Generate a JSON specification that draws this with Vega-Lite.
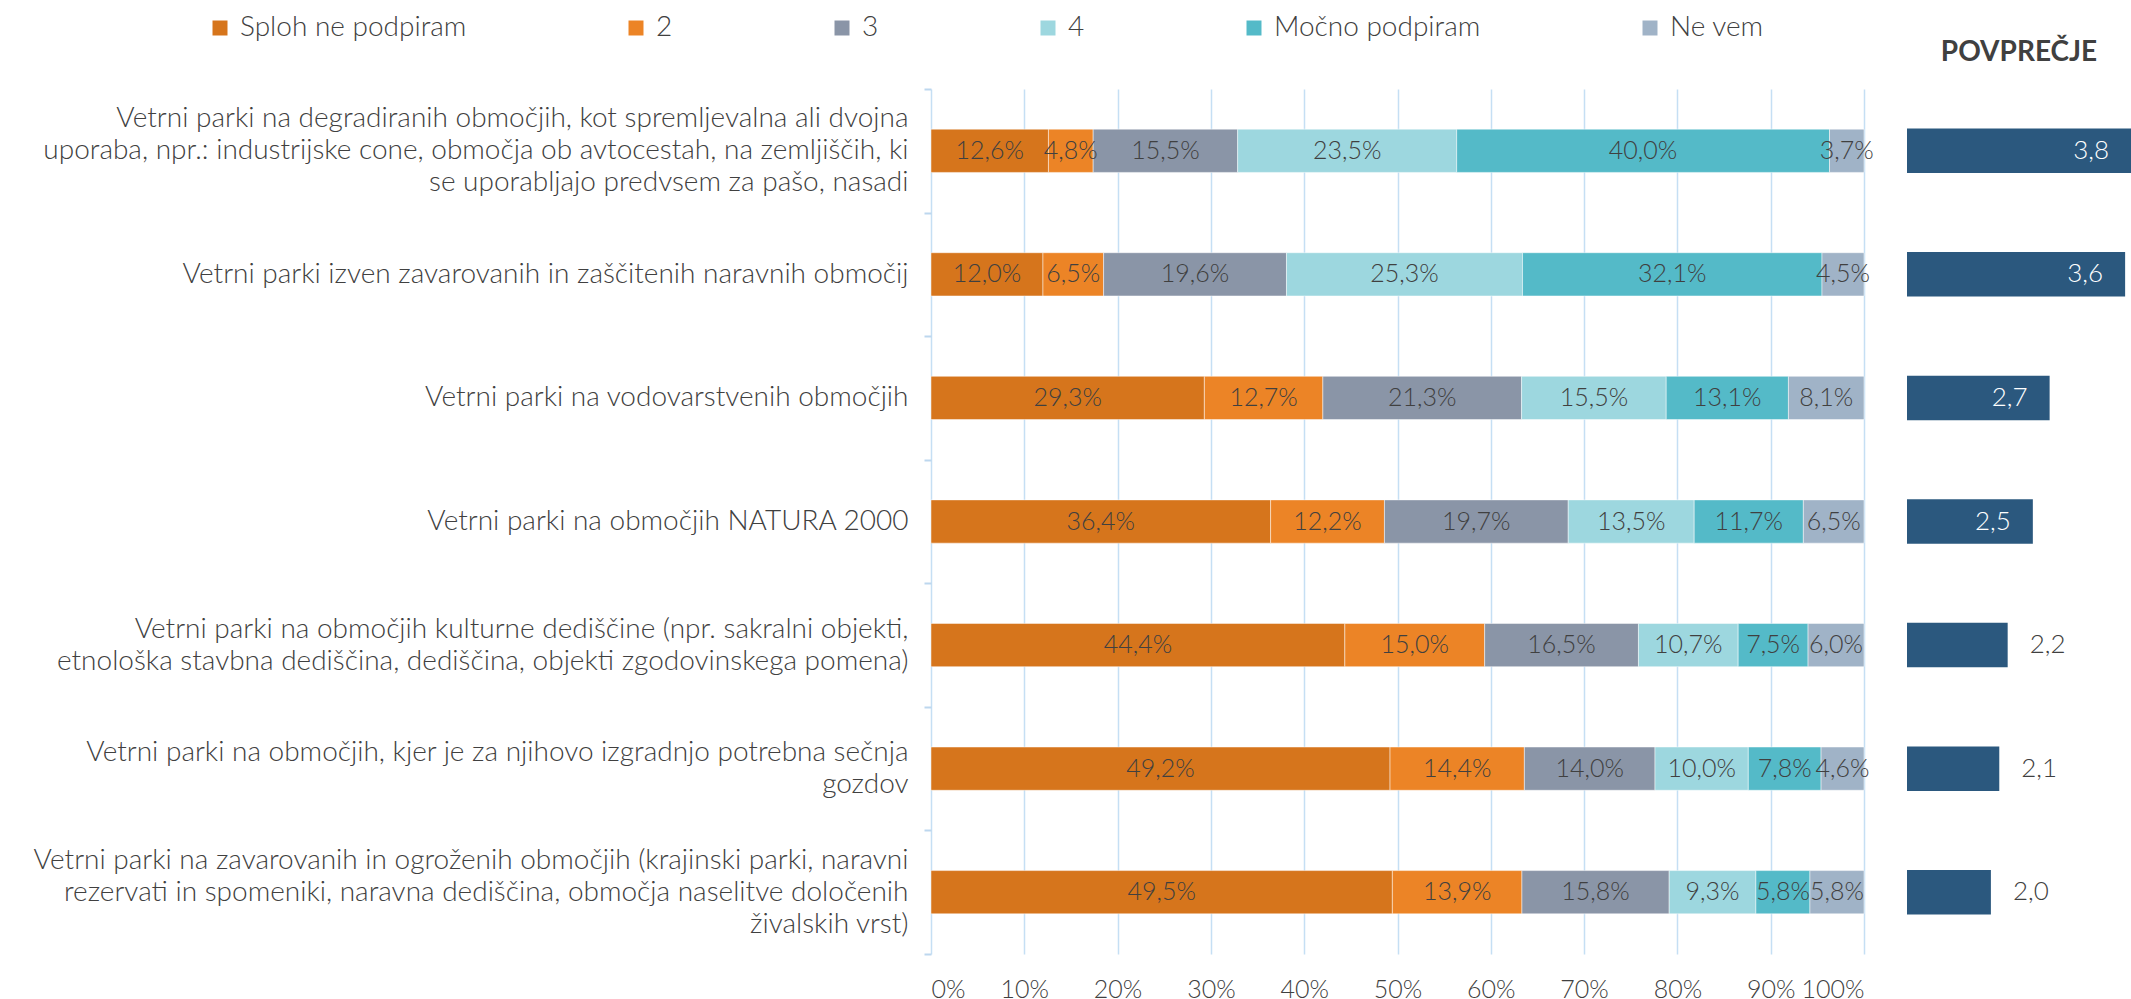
{
  "$schema": "https://vega.github.io/schema/vega-lite/v6.json",
  "autosize": {"type": "pad"},
  "padding": {"left": 33, "top": 14, "right": 0, "bottom": 0},
  "bounds": "flush",
  "spacing": 43,
  "config": {
    "view": {"stroke": null},
    "font": "Lato",
    "locale": {"number": {"decimal": ",", "thousands": ".", "grouping": [3], "currency": ["", " €"]}}
  },
  "datasets": {
    "d": [
      {"q": "Vetrni parki na degradiranih območjih, kot spremljevalna ali dvojna|uporaba, npr.: industrijske cone, območja ob avtocestah, na zemljiščih, ki|se uporabljajo predvsem za pašo, nasadi", "Sploh ne podpiram": 0.126, "2": 0.048, "3": 0.155, "4": 0.235, "Močno podpiram": 0.400, "Ne vem": 0.037, "avg": 3.8},
      {"q": "Vetrni parki izven zavarovanih in zaščitenih naravnih območij", "Sploh ne podpiram": 0.120, "2": 0.065, "3": 0.196, "4": 0.253, "Močno podpiram": 0.321, "Ne vem": 0.045, "avg": 3.6},
      {"q": "Vetrni parki na vodovarstvenih območjih", "Sploh ne podpiram": 0.293, "2": 0.127, "3": 0.213, "4": 0.155, "Močno podpiram": 0.131, "Ne vem": 0.081, "avg": 2.7},
      {"q": "Vetrni parki na območjih NATURA 2000", "Sploh ne podpiram": 0.364, "2": 0.122, "3": 0.197, "4": 0.135, "Močno podpiram": 0.117, "Ne vem": 0.065, "avg": 2.5},
      {"q": "Vetrni parki na območjih kulturne dediščine (npr. sakralni objekti,|etnološka stavbna dediščina, dediščina, objekti zgodovinskega pomena)", "Sploh ne podpiram": 0.444, "2": 0.150, "3": 0.165, "4": 0.107, "Močno podpiram": 0.075, "Ne vem": 0.060, "avg": 2.2},
      {"q": "Vetrni parki na območjih, kjer je za njihovo izgradnjo potrebna sečnja|gozdov", "Sploh ne podpiram": 0.492, "2": 0.144, "3": 0.140, "4": 0.100, "Močno podpiram": 0.078, "Ne vem": 0.046, "avg": 2.1},
      {"q": "Vetrni parki na zavarovanih in ogroženih območjih (krajinski parki, naravni|rezervati in spomeniki, naravna dediščina, območja naselitve določenih|živalskih vrst)", "Sploh ne podpiram": 0.495, "2": 0.139, "3": 0.158, "4": 0.093, "Močno podpiram": 0.058, "Ne vem": 0.058, "avg": 2.0}
    ]
  },
  "hconcat": [
    {
      "width": 933,
      "height": 865,
      "data": {"name": "d"},
      "transform": [
        {"fold": ["Sploh ne podpiram", "2", "3", "4", "Močno podpiram", "Ne vem"], "as": ["cat", "v"]},
        {"calculate": "indexof(['Sploh ne podpiram','2','3','4','Močno podpiram','Ne vem'], datum.cat)", "as": "k"},
        {"stack": "v", "groupby": ["q"], "sort": [{"field": "k", "order": "ascending"}], "offset": "normalize", "as": ["x0", "x1"]},
        {"calculate": "(datum.x0 + datum.x1) / 2", "as": "mid"}
      ],
      "encoding": {
        "y": {
          "field": "q", "type": "nominal", "sort": null,
          "scale": {"paddingInner": 0, "paddingOuter": 0},
          "axis": {
            "title": null,
            "labelExpr": "split(datum.label, '|')",
            "labelFont": "Lato", "labelFontSize": 28, "labelFontWeight": 300, "labelLineHeight": 32,
            "labelOffset": -16,
            "labelBaseline": {
              "condition": [
                {"test": "length(split(datum.value, '|')) == 1", "value": "line-top"},
                {"test": "length(split(datum.value, '|')) == 3", "value": "line-bottom"}
              ],
              "value": "middle"
            },
            "labelColor": "#404040", "labelPadding": 16, "labelLimit": 2000,
            "domain": false, "ticks": true, "tickBand": "extent", "tickSize": 7,
            "tickColor": "#BDD7EE", "tickWidth": 2, "grid": false
          }
        }
      },
      "layer": [
        {
          "mark": {"type": "bar", "height": {"band": 0.35}, "stroke": "#ffffff", "strokeWidth": 0.8, "strokeOpacity": 0.6},
          "encoding": {
            "x": {
              "field": "x0", "type": "quantitative",
              "scale": {"domain": [0, 1], "nice": false},
              "axis": {
                "title": null, "format": ".0%",
                "values": [0, 0.1, 0.2, 0.3, 0.4, 0.5, 0.6, 0.7, 0.8, 0.9, 1],
                "grid": true, "gridColor": "#C5DFF4", "gridWidth": 1.5,
                "domain": false, "ticks": false,
                "labelFont": "Lato", "labelFontSize": 25, "labelFontWeight": 300, "labelColor": "#404040", "labelPadding": 23
              }
            },
            "x2": {"field": "x1"},
            "color": {
              "field": "cat", "type": "nominal",
              "scale": {
                "domain": ["Sploh ne podpiram", "2", "3", "4", "Močno podpiram", "Ne vem"],
                "range": ["#D6751C", "#EC8426", "#8A95A7", "#9DD7DF", "#54BAC8", "#A0B3C7"]
              },
              "legend": {
                "title": null, "orient": "none", "legendX": -725, "legendY": -75,
                "direction": "horizontal", "columns": 6, "columnPadding": 155,
                "symbolType": "square", "symbolSize": 225, "symbolStrokeWidth": 0,
                "labelFont": "Lato", "labelFontSize": 28, "labelFontWeight": 300, "labelColor": "#404040",
                "labelOffset": 6, "labelLimit": 1000, "padding": 0
              }
            }
          }
        },
        {
          "mark": {"type": "text", "font": "Lato", "fontSize": 25, "fontWeight": 300, "color": "#404040"},
          "encoding": {
            "x": {"field": "mid", "type": "quantitative"},
            "text": {"field": "v", "type": "quantitative", "format": ".1%"}
          }
        }
      ]
    },
    {
      "width": 224,
      "height": 865,
      "data": {"name": "d"},
      "title": {"text": "POVPREČJE", "font": "Lato", "fontSize": 28, "fontWeight": "bold", "color": "#404040", "anchor": "middle", "offset": 22},
      "encoding": {
        "y": {"field": "q", "type": "nominal", "sort": null, "scale": {"paddingInner": 0, "paddingOuter": 0}, "axis": null}
      },
      "layer": [
        {
          "mark": {"type": "bar", "color": "#2B587E", "height": {"band": 0.36}},
          "encoding": {
            "x": {"field": "avg", "type": "quantitative", "scale": {"domain": [1, 3.67], "clamp": true, "zero": false, "nice": false}, "axis": null},
            "x2": {"datum": 1}
          }
        },
        {
          "transform": [{"filter": "datum.avg >= 2.5"}],
          "mark": {"type": "text", "align": "right", "dx": -22, "color": "#ffffff", "font": "Lato", "fontSize": 26, "fontWeight": 300},
          "encoding": {
            "x": {"field": "avg", "type": "quantitative"},
            "text": {"field": "avg", "type": "quantitative", "format": ".1f"}
          }
        },
        {
          "transform": [{"filter": "datum.avg < 2.5"}],
          "mark": {"type": "text", "align": "left", "dx": 22, "color": "#404040", "font": "Lato", "fontSize": 26, "fontWeight": 300},
          "encoding": {
            "x": {"field": "avg", "type": "quantitative"},
            "text": {"field": "avg", "type": "quantitative", "format": ".1f"}
          }
        }
      ]
    }
  ]
}
